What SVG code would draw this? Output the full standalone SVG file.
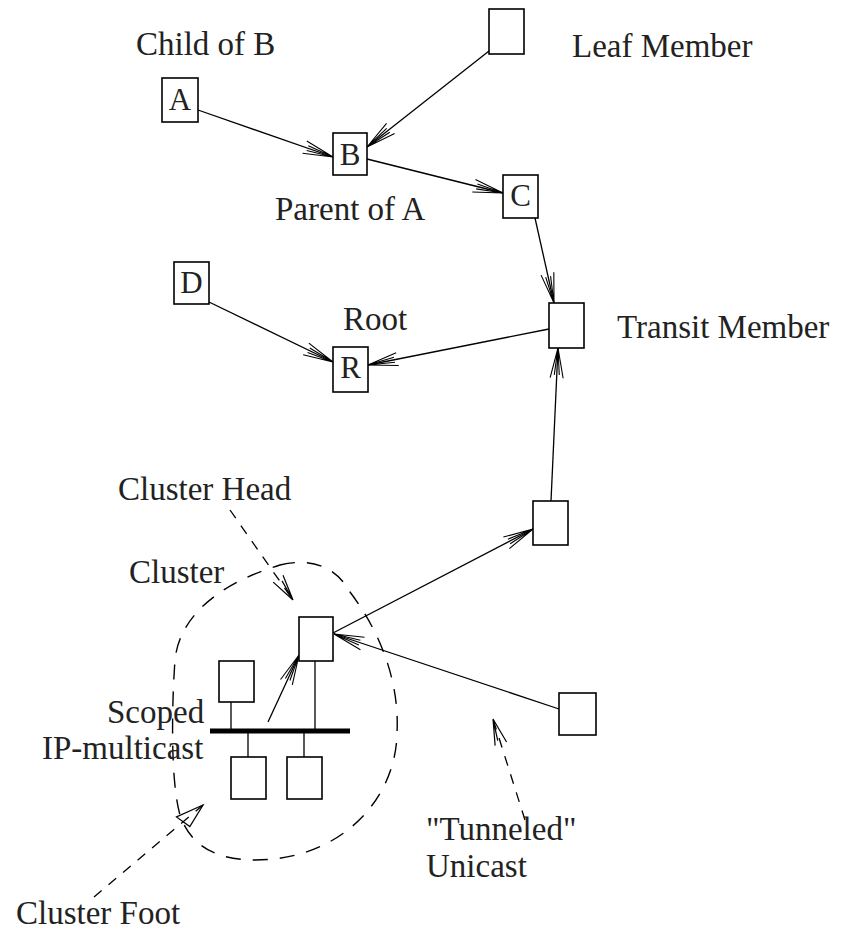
<svg xmlns="http://www.w3.org/2000/svg" width="844" height="930" viewBox="0 0 844 930">
<style>
  .box{fill:#fff;stroke:#000;stroke-width:1.6}
  .ln{fill:none;stroke:#000;stroke-width:1.3}
  .dash{fill:none;stroke:#000;stroke-width:1.3;stroke-dasharray:10 9}
  .lbl{font-family:"Liberation Serif","Times New Roman",serif;font-size:33px;fill:#222}
  .blbl{font-family:"Liberation Serif","Times New Roman",serif;font-size:31px;fill:#222;text-anchor:middle}
</style>
<defs>
  <marker id="arr" viewBox="-32 -9 34 18" markerUnits="userSpaceOnUse" markerWidth="34" markerHeight="18" refX="0" refY="0" orient="auto" overflow="visible">
    <path d="M0,0 L-30,-6.5 M0,0 L-30,6.5 M0,0 L-27,-2.5 M0,0 L-27,2.5" fill="none" stroke="#000" stroke-width="1.1"/>
  </marker>
  <marker id="varr" viewBox="-32 -9 34 18" markerUnits="userSpaceOnUse" markerWidth="34" markerHeight="18" refX="0" refY="0" orient="auto" overflow="visible">
    <path d="M0,0 L-26,-6 M0,0 L-26,6 M0,0 L-22,-2" fill="none" stroke="#000" stroke-width="1.2"/>
  </marker>
  <marker id="tarr" viewBox="-32 -9 34 18" markerUnits="userSpaceOnUse" markerWidth="34" markerHeight="18" refX="0" refY="0" orient="auto" overflow="visible">
    <path d="M0,0 L-28,-8 L-24,8 Z" fill="none" stroke="#000" stroke-width="1.2"/>
  </marker>
</defs>
<rect width="844" height="930" fill="#fff"/>

<g id="connectors">
  <path class="ln" d="M198,110 L333,157" marker-end="url(#arr)"/>
  <path class="ln" d="M489,51 L367,147" marker-end="url(#arr)"/>
  <path class="ln" d="M367,159 L503,193" marker-end="url(#arr)"/>
  <path class="ln" d="M535,218 L554,303" marker-end="url(#arr)"/>
  <path class="ln" d="M209,302 L333,362" marker-end="url(#arr)"/>
  <path class="ln" d="M549,329 L368,365" marker-end="url(#arr)"/>
  <path class="ln" d="M551,501 L558,348" marker-end="url(#arr)"/>
  <path class="ln" d="M333,633 L533,529" marker-end="url(#arr)"/>
  <path class="ln" d="M559,709 L334,634" marker-end="url(#arr)"/>
  <path class="ln" d="M268,722 L299,655" marker-end="url(#arr)"/>
  <!-- LAN bus and stubs -->
  <line x1="210" y1="731" x2="350" y2="731" stroke="#000" stroke-width="5"/>
  <path class="ln" d="M231,702 L231,731 M315,661 L315,731 M248,731 L248,757 M304,731 L304,757" stroke-width="1.6"/>
  <!-- dashed annotation arrows -->
  <path class="dash" d="M230,510 L293,600" marker-end="url(#varr)"/>
  <path class="dash" d="M525,820 L493,719" marker-end="url(#varr)"/>
  <path class="dash" d="M94,897 L203,805" marker-end="url(#tarr)"/>
</g>

<g id="cluster">
  <path fill="none" stroke="#000" stroke-width="1.4" stroke-dasharray="15 12" d="M280,565 C310,558 335,565 350,592 C375,625 400,675 397,733 C396,800 340,860 255,860 C215,860 190,845 180,815 C170,780 172,700 175,660 C180,610 230,580 280,565 Z"/>
</g>

<g id="node-leaf"><rect class="box" x="489" y="9" width="35" height="45"/></g>
<g id="node-A"><rect class="box" x="162" y="78" width="36" height="44"/><text class="blbl" x="180" y="110">A</text></g>
<g id="node-B"><rect class="box" x="333" y="133" width="34" height="42"/><text class="blbl" x="350" y="165">B</text></g>
<g id="node-C"><rect class="box" x="503" y="175" width="35" height="43"/><text class="blbl" x="520.5" y="206">C</text></g>
<g id="node-D"><rect class="box" x="174" y="262" width="35" height="42"/><text class="blbl" x="191.5" y="293">D</text></g>
<g id="node-R"><rect class="box" x="333" y="347" width="35" height="45"/><text class="blbl" x="350.5" y="378">R</text></g>
<g id="node-transit"><rect class="box" x="549" y="303" width="35" height="45"/></g>
<g id="node-mid"><rect class="box" x="533" y="501" width="35" height="44"/></g>
<g id="node-head"><rect class="box" x="299" y="617" width="34" height="44"/></g>
<g id="node-right"><rect class="box" x="559" y="693" width="37" height="42"/></g>
<g id="node-lan1"><rect class="box" x="219" y="661" width="35" height="41"/></g>
<g id="node-lan2"><rect class="box" x="231" y="757" width="35" height="42"/></g>
<g id="node-lan3"><rect class="box" x="287" y="757" width="35" height="42"/></g>

<g id="labels">
  <text class="lbl" x="136" y="55">Child of B</text>
  <text class="lbl" x="572" y="57">Leaf Member</text>
  <text class="lbl" x="275" y="220">Parent of A</text>
  <text class="lbl" x="343" y="330">Root</text>
  <text class="lbl" x="617" y="338">Transit Member</text>
  <text class="lbl" x="118" y="500">Cluster Head</text>
  <text class="lbl" x="129" y="583">Cluster</text>
  <text class="lbl" x="107" y="723">Scoped</text>
  <text class="lbl" x="42" y="759">IP-multicast</text>
  <text class="lbl" x="426" y="840">"Tunneled"</text>
  <text class="lbl" x="426" y="877">Unicast</text>
  <text class="lbl" x="16" y="924">Cluster Foot</text>
</g>
</svg>
